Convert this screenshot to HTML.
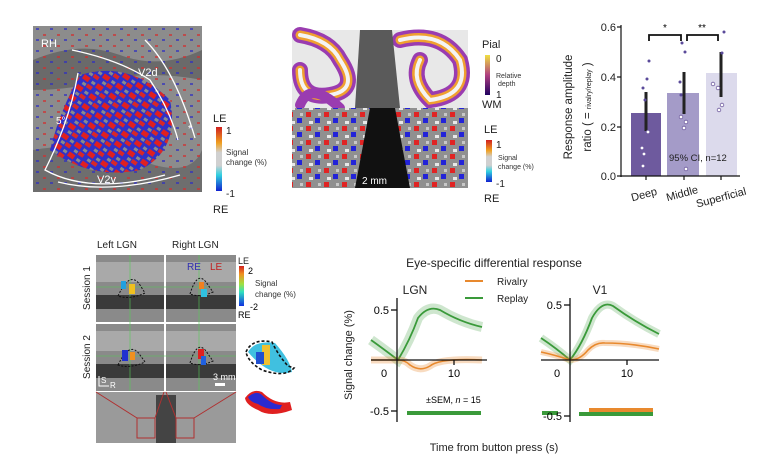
<!DOCTYPE html>
<html><head><meta charset="utf-8"><style>
html,body{margin:0;padding:0;background:#fff}
svg{display:block;font-family:"Liberation Sans",sans-serif}
</style></head><body>
<svg width="781" height="470" viewBox="0 0 781 470" xmlns="http://www.w3.org/2000/svg">
<defs>
<pattern id="rb" width="16" height="12" patternUnits="userSpaceOnUse" patternTransform="rotate(35)">
<rect width="16" height="12" fill="#3030c8"/><rect x="0" y="0" width="7" height="5" fill="#e02020"/><rect x="8" y="6" width="6" height="4" fill="#d82828"/><rect x="3" y="7" width="4" height="3" fill="#8a8a8a"/><rect x="10" y="1" width="4" height="3" fill="#8a8a8a"/>
</pattern>
<pattern id="spk" width="14" height="11" patternUnits="userSpaceOnUse">
<rect x="1" y="1" width="3" height="2" fill="#d03030"/><rect x="8" y="6" width="3" height="2" fill="#3030c0"/>
</pattern>
<pattern id="mix" width="18" height="14" patternUnits="userSpaceOnUse">
<rect width="18" height="14" fill="#909090"/><rect x="0" y="0" width="5" height="5" fill="#e02424"/><rect x="9" y="6" width="5" height="5" fill="#2323d8"/><rect x="3" y="9" width="4" height="3" fill="#e8e8e8"/><rect x="12" y="1" width="3" height="3" fill="#c8c8c8"/>
</pattern>
<linearGradient id="cb1" x1="0" y1="0" x2="0" y2="1">
<stop offset="0" stop-color="#d02020"/><stop offset="0.25" stop-color="#f0a020"/><stop offset="0.4" stop-color="#d0d0d0"/><stop offset="0.6" stop-color="#d0d0d0"/><stop offset="0.75" stop-color="#30d0e0"/><stop offset="1" stop-color="#1020d0"/>
</linearGradient>
<linearGradient id="cb2" x1="0" y1="0" x2="0" y2="1">
<stop offset="0" stop-color="#f0e040"/><stop offset="0.5" stop-color="#b04080"/><stop offset="1" stop-color="#200060"/>
</linearGradient>
<linearGradient id="cb3" x1="0" y1="0" x2="0" y2="1">
<stop offset="0" stop-color="#d02020"/><stop offset="0.2" stop-color="#f09020"/><stop offset="0.45" stop-color="#a0e040"/><stop offset="0.65" stop-color="#30e0c0"/><stop offset="1" stop-color="#1030e0"/>
</linearGradient>
</defs>

<!-- Top-left cortex map -->
<rect x="33" y="26" width="169" height="166" fill="#8c8c8c"/>
<path d="M33 60 Q80 40 120 55 T202 50 L202 80 Q150 70 110 80 T33 90Z" fill="#6a6a6a"/>
<path d="M33 150 Q90 140 140 160 T202 150 L202 192 L33 192Z" fill="#6e6e6e"/>
<rect x="33" y="26" width="169" height="166" fill="url(#spk)" opacity="0.7"/>
<path d="M80 75 Q130 60 170 100 Q180 150 140 170 Q90 180 50 150 Q60 110 80 75Z" fill="url(#rb)"/>
<g fill="none" stroke="#fff" stroke-width="1.3">
<path d="M72 50 Q120 60 150 80 Q170 110 178 140"/>
<path d="M145 40 Q175 70 195 138"/>
<path d="M78 73 Q70 120 45 170 Q90 195 165 175"/>
<path d="M58 182 Q110 195 180 175"/>
</g>
<text x="41" y="47" font-size="11" fill="#fff">RH</text>
<text x="138" y="76" font-size="11" fill="#fff">V2d</text>
<text x="56" y="124" font-size="10" fill="#fff">5°</text>
<text x="97" y="183" font-size="11" fill="#fff">V2v</text>
<text x="188" y="132" font-size="10" fill="#fff">*</text>
<text x="213" y="122" font-size="11" fill="#222">LE</text>
<rect x="216" y="127" width="6" height="64" fill="url(#cb1)"/>
<text x="226" y="134" font-size="10" fill="#222">1</text>
<text x="226" y="155" font-size="8" fill="#333">Signal</text>
<text x="226" y="165" font-size="8" fill="#333">change (%)</text>
<text x="226" y="197" font-size="10" fill="#222">-1</text>
<text x="213" y="213" font-size="11" fill="#222">RE</text>

<!-- Middle images -->
<rect x="292" y="30" width="176" height="78" fill="#e8e8e8"/>
<g fill="none" stroke-linecap="round">
<path d="M300 35 Q330 40 340 60 Q360 90 330 95 Q300 100 300 70" stroke="#9a3cb0" stroke-width="16"/>
<path d="M300 35 Q330 40 340 60 Q360 90 330 95 Q300 100 300 70" stroke="#f0a030" stroke-width="9"/>
<path d="M300 35 Q330 40 340 60 Q360 90 330 95 Q300 100 300 70" stroke="#f4f4f4" stroke-width="4"/>
<path d="M300 105 Q310 80 340 108" stroke="#9a3cb0" stroke-width="10"/>
<path d="M400 40 Q440 30 460 60 Q470 95 430 100 Q410 80 420 60" stroke="#9a3cb0" stroke-width="16"/>
<path d="M400 40 Q440 30 460 60 Q470 95 430 100 Q410 80 420 60" stroke="#f0a030" stroke-width="9"/>
<path d="M400 40 Q440 30 460 60 Q470 95 430 100 Q410 80 420 60" stroke="#f4f4f4" stroke-width="4"/>
</g>
<path d="M360 30 L392 30 L400 108 L355 108Z" fill="#5a5a5a"/>
<rect x="292" y="108" width="176" height="80" fill="url(#mix)"/>
<path d="M370 108 L395 108 L410 188 L355 188Z" fill="#111"/>
<text x="362" y="184" font-size="10" fill="#fff">2 mm</text>
<text x="482" y="48" font-size="11" fill="#222">Pial</text>
<rect x="485" y="55" width="5" height="40" fill="url(#cb2)"/>
<text x="496" y="62" font-size="10" fill="#222">0</text>
<text x="496" y="78" font-size="7" fill="#333">Relative</text>
<text x="498" y="86" font-size="7" fill="#333">depth</text>
<text x="496" y="98" font-size="10" fill="#222">1</text>
<text x="482" y="108" font-size="11" fill="#222">WM</text>
<text x="484" y="133" font-size="11" fill="#222">LE</text>
<rect x="486" y="140" width="6" height="42" fill="url(#cb1)"/>
<text x="496" y="148" font-size="10" fill="#222">1</text>
<text x="498" y="160" font-size="7" fill="#333">Signal</text>
<text x="498" y="169" font-size="7" fill="#333">change (%)</text>
<text x="496" y="187" font-size="10" fill="#222">-1</text>
<text x="484" y="202" font-size="11" fill="#222">RE</text>

<!-- Bar chart -->
<rect x="631" y="113" width="30" height="63" fill="#6e5a9e"/>
<rect x="667" y="93" width="32" height="83" fill="#a49bc8"/>
<rect x="706" y="73" width="31" height="103" fill="#dcdaec"/>
<g stroke="#222" stroke-width="3"><line x1="646" y1="92" x2="646" y2="131"/><line x1="684" y1="72" x2="684" y2="114"/><line x1="721" y1="52" x2="721" y2="97"/></g>
<g fill="#fff" stroke="#6e5a9e" stroke-width="0.8">
<circle cx="648" cy="132" r="1.8"/><circle cx="642" cy="148" r="1.8"/><circle cx="644" cy="154" r="1.8"/><circle cx="643" cy="166" r="1.8"/><circle cx="681" cy="117" r="1.8"/><circle cx="686" cy="122" r="1.8"/><circle cx="684" cy="128" r="1.8"/><circle cx="686" cy="169" r="1.8"/><circle cx="718" cy="88" r="1.8"/><circle cx="722" cy="105" r="1.8"/><circle cx="719" cy="110" r="1.8"/><circle cx="713" cy="84" r="1.8"/>
</g>
<g fill="#5a4a9a"><circle cx="649" cy="61" r="1.5"/><circle cx="647" cy="79" r="1.5"/><circle cx="643" cy="88" r="1.5"/><circle cx="645" cy="100" r="1.5"/><circle cx="682" cy="43" r="1.5"/><circle cx="685" cy="52" r="1.5"/><circle cx="681" cy="95" r="1.5"/><circle cx="680" cy="82" r="1.5"/><circle cx="724" cy="32" r="1.5"/><circle cx="722" cy="53" r="1.5"/></g>
<g stroke="#111" stroke-width="1.2" fill="none">
<line x1="621" y1="25" x2="621" y2="177"/>
<line x1="621" y1="176" x2="740" y2="176"/>
<line x1="617" y1="27" x2="621" y2="27"/><line x1="617" y1="77" x2="621" y2="77"/><line x1="617" y1="127" x2="621" y2="127"/><line x1="617" y1="176" x2="621" y2="176"/>
<line x1="646" y1="176" x2="646" y2="180"/><line x1="684" y1="176" x2="684" y2="180"/><line x1="721" y1="176" x2="721" y2="180"/>
<path d="M649 41 V35 H681 V41" stroke-width="1.8"/><path d="M687 41 V35 H718 V41" stroke-width="1.8"/>
</g>
<text x="616" y="31" font-size="11" text-anchor="end" fill="#222">0.6</text>
<text x="616" y="81" font-size="11" text-anchor="end" fill="#222">0.4</text>
<text x="616" y="131" font-size="11" text-anchor="end" fill="#222">0.2</text>
<text x="616" y="180" font-size="11" text-anchor="end" fill="#222">0.0</text>
<text x="665" y="31" font-size="10" text-anchor="middle">*</text>
<text x="702" y="31" font-size="10" text-anchor="middle">**</text>
<text x="669" y="161" font-size="9.5" fill="#222">95% CI, n=12</text>
<text transform="translate(572,107) rotate(-90)" font-size="11.5" text-anchor="middle" fill="#222">Response amplitude</text>
<text transform="translate(591,107) rotate(-90)" font-size="11.5" text-anchor="middle" fill="#222">ratio ( = <tspan font-size="7">rivalry/replay</tspan> )</text>
<text transform="translate(645,198) rotate(-15)" font-size="11" text-anchor="middle" fill="#222">Deep</text>
<text transform="translate(683,197) rotate(-15)" font-size="11" text-anchor="middle" fill="#222">Middle</text>
<text transform="translate(722,201) rotate(-15)" font-size="11" text-anchor="middle" fill="#222">Superficial</text>

<!-- LGN panels -->
<text x="97" y="248" font-size="10" fill="#222">Left LGN</text>
<text x="172" y="248" font-size="10" fill="#222">Right LGN</text>
<g fill="#8a8a8a">
<rect x="96" y="255" width="68" height="67"/><rect x="166" y="255" width="70" height="67"/>
<rect x="96" y="324" width="68" height="67"/><rect x="166" y="324" width="70" height="67"/>
</g>
<g fill="#3a3a3a"><rect x="96" y="295" width="68" height="14"/><rect x="166" y="295" width="70" height="14"/><rect x="96" y="364" width="68" height="14"/><rect x="166" y="364" width="70" height="14"/></g>
<g fill="#c8c8c8"><rect x="96" y="262" width="68" height="20" opacity=".5"/><rect x="166" y="262" width="70" height="20" opacity=".5"/><rect x="96" y="331" width="68" height="20" opacity=".5"/><rect x="166" y="331" width="70" height="20" opacity=".5"/></g>
<g stroke="#5c5" stroke-width=".6"><line x1="130" y1="255" x2="130" y2="391"/><line x1="199" y1="255" x2="199" y2="391"/><line x1="96" y1="287" x2="236" y2="287"/><line x1="96" y1="356" x2="236" y2="356"/></g>
<g fill="none" stroke="#111" stroke-dasharray="2,1.5" stroke-width="1">
<path d="M118 296 Q130 270 140 285 L145 293 Q130 300 118 296Z"/><path d="M190 294 Q198 268 208 285 L213 292 Q200 298 190 294Z"/>
<path d="M118 365 Q130 340 140 355 L145 362 Q130 369 118 365Z"/><path d="M190 363 Q198 337 208 354 L213 361 Q200 367 190 363Z"/>
</g>
<rect x="121" y="281" width="5" height="8" fill="#20a0e0"/><rect x="129" y="284" width="6" height="10" fill="#f0c020"/>
<rect x="199" y="282" width="5" height="7" fill="#f08020"/><rect x="201" y="289" width="6" height="8" fill="#30c0e0"/>
<rect x="122" y="350" width="6" height="11" fill="#2030d0"/><rect x="130" y="352" width="5" height="8" fill="#f09020"/>
<rect x="198" y="349" width="6" height="10" fill="#e02020"/><rect x="201" y="356" width="5" height="9" fill="#2060e0"/>
<text x="187" y="270" font-size="10" fill="#3030b0">RE</text>
<text x="210" y="270" font-size="10" fill="#c02020">LE</text>
<text x="213" y="380" font-size="9" fill="#fff">3 mm</text>
<rect x="215" y="383" width="10" height="3" fill="#fff"/>
<text x="101" y="383" font-size="8" fill="#fff">S</text><text x="110" y="388" font-size="8" fill="#fff">R</text>
<path d="M99 376 V386 H109" stroke="#fff" fill="none"/>
<rect x="96" y="392" width="140" height="51" fill="#9a9a9a"/>
<rect x="156" y="395" width="20" height="48" fill="#444"/>
<g stroke="#b03030" fill="none" stroke-width="1"><rect x="137" y="418" width="18" height="20"/><rect x="176" y="418" width="18" height="20"/><path d="M96 392 L137 418 M164 392 L155 418 M166 392 L176 418 M236 392 L194 418"/></g>
<text transform="translate(90,288) rotate(-90)" font-size="10" text-anchor="middle" fill="#222">Session 1</text>
<text transform="translate(90,357) rotate(-90)" font-size="10" text-anchor="middle" fill="#222">Session 2</text>
<text x="238" y="264" font-size="9" fill="#222">LE</text>
<rect x="239" y="266" width="5" height="40" fill="url(#cb3)"/>
<text x="248" y="274" font-size="9">2</text>
<text x="255" y="286" font-size="8" fill="#333">Signal</text>
<text x="255" y="297" font-size="8" fill="#333">change (%)</text>
<text x="250" y="310" font-size="9">-2</text>
<text x="238" y="318" font-size="9">RE</text>
<path d="M248 352 Q255 340 275 343 Q290 360 292 372 Q270 378 248 352Z" fill="#40c0e0"/>
<rect x="262" y="345" width="8" height="20" fill="#f0c030"/><rect x="256" y="352" width="8" height="12" fill="#2050d0"/>
<path d="M246 352 Q252 338 272 342 Q278 355 288 366 L294 368 Q285 378 262 370 Q248 362 246 352Z" fill="none" stroke="#111" stroke-dasharray="3,2" stroke-width="1.6"/>
<path d="M245 398 Q252 388 262 392 Q275 405 290 402 L292 410 Q270 418 258 410 Q246 405 245 398Z" fill="#e02020"/>
<path d="M248 397 Q256 390 262 395 Q272 405 282 405 L280 409 Q266 410 258 404 Q250 402 248 397Z" fill="#2a2ad0"/>

<!-- Time course charts -->
<text x="494" y="267" font-size="12" text-anchor="middle" fill="#222">Eye-specific differential response</text>
<line x1="465" y1="281" x2="483" y2="281" stroke="#e8892e" stroke-width="2"/>
<text x="497" y="285" font-size="10" fill="#222">Rivalry</text>
<line x1="465" y1="298" x2="483" y2="298" stroke="#3a9a3a" stroke-width="2"/>
<text x="497" y="302" font-size="10" fill="#222">Replay</text>
<text x="415" y="294" font-size="12" text-anchor="middle" fill="#222">LGN</text>
<text x="600" y="294" font-size="12" text-anchor="middle" fill="#222">V1</text>
<text transform="translate(352,355) rotate(-90)" font-size="11" text-anchor="middle" fill="#222">Signal change (%)</text>
<text x="494" y="451" font-size="11" text-anchor="middle" fill="#222">Time from button press (s)</text>

<g fill="none">
<path d="M371 340 Q385 350 398 360 Q410 340 418 318 Q428 305 440 310 Q460 322 482 327" stroke="#3a9a3a" stroke-width="10" opacity=".25"/>
<path d="M371 340 Q385 350 398 360 Q410 340 418 318 Q428 305 440 310 Q460 322 482 327" stroke="#3a9a3a" stroke-width="1.8"/>
<path d="M371 360 Q385 360 398 360 Q405 360 410 365 Q420 372 430 366 Q440 358 482 360" stroke="#e8892e" stroke-width="7" opacity=".3"/>
<path d="M371 360 Q385 360 398 360 Q405 360 410 365 Q420 372 430 366 Q440 358 482 360" stroke="#e8892e" stroke-width="1.6"/>
<g stroke="#111" stroke-width="1.3"><line x1="397" y1="298" x2="397" y2="422"/><line x1="371" y1="360" x2="487" y2="360"/><line x1="391" y1="310" x2="397" y2="310"/><line x1="391" y1="411" x2="397" y2="411"/><line x1="454" y1="360" x2="454" y2="365"/></g>
</g>
<line x1="407" y1="413" x2="481" y2="413" stroke="#3a9a3a" stroke-width="4"/>
<text x="389" y="314" font-size="11" text-anchor="end">0.5</text>
<text x="389" y="415" font-size="11" text-anchor="end">-0.5</text>
<text x="384" y="377" font-size="11" text-anchor="middle">0</text>
<text x="454" y="377" font-size="11" text-anchor="middle">10</text>
<text x="426" y="403" font-size="9">±SEM, <tspan font-style="italic">n</tspan> = 15</text>

<g fill="none">
<path d="M541 338 Q556 348 570 360 Q582 345 592 318 Q602 300 613 306 Q635 322 659 334" stroke="#3a9a3a" stroke-width="8" opacity=".25"/>
<path d="M541 338 Q556 348 570 360 Q582 345 592 318 Q602 300 613 306 Q635 322 659 334" stroke="#3a9a3a" stroke-width="1.8"/>
<path d="M541 352 Q555 355 570 360 Q580 360 588 350 Q596 342 605 343 Q630 343 659 349" stroke="#e8892e" stroke-width="6" opacity=".3"/>
<path d="M541 352 Q555 355 570 360 Q580 360 588 350 Q596 342 605 343 Q630 343 659 349" stroke="#e8892e" stroke-width="1.6"/>
<g stroke="#111" stroke-width="1.3"><line x1="570" y1="298" x2="570" y2="422"/><line x1="541" y1="360" x2="659" y2="360"/><line x1="564" y1="305" x2="570" y2="305"/><line x1="564" y1="416" x2="570" y2="416"/><line x1="627" y1="360" x2="627" y2="365"/></g>
</g>
<line x1="589" y1="410" x2="653" y2="410" stroke="#e8892e" stroke-width="4"/>
<line x1="579" y1="414" x2="653" y2="414" stroke="#3a9a3a" stroke-width="4"/>
<line x1="542" y1="413" x2="558" y2="413" stroke="#3a9a3a" stroke-width="4"/>
<text x="562" y="309" font-size="11" text-anchor="end">0.5</text>
<text x="562" y="420" font-size="11" text-anchor="end">-0.5</text>
<text x="557" y="377" font-size="11" text-anchor="middle">0</text>
<text x="627" y="377" font-size="11" text-anchor="middle">10</text>
</svg>
</body></html>
